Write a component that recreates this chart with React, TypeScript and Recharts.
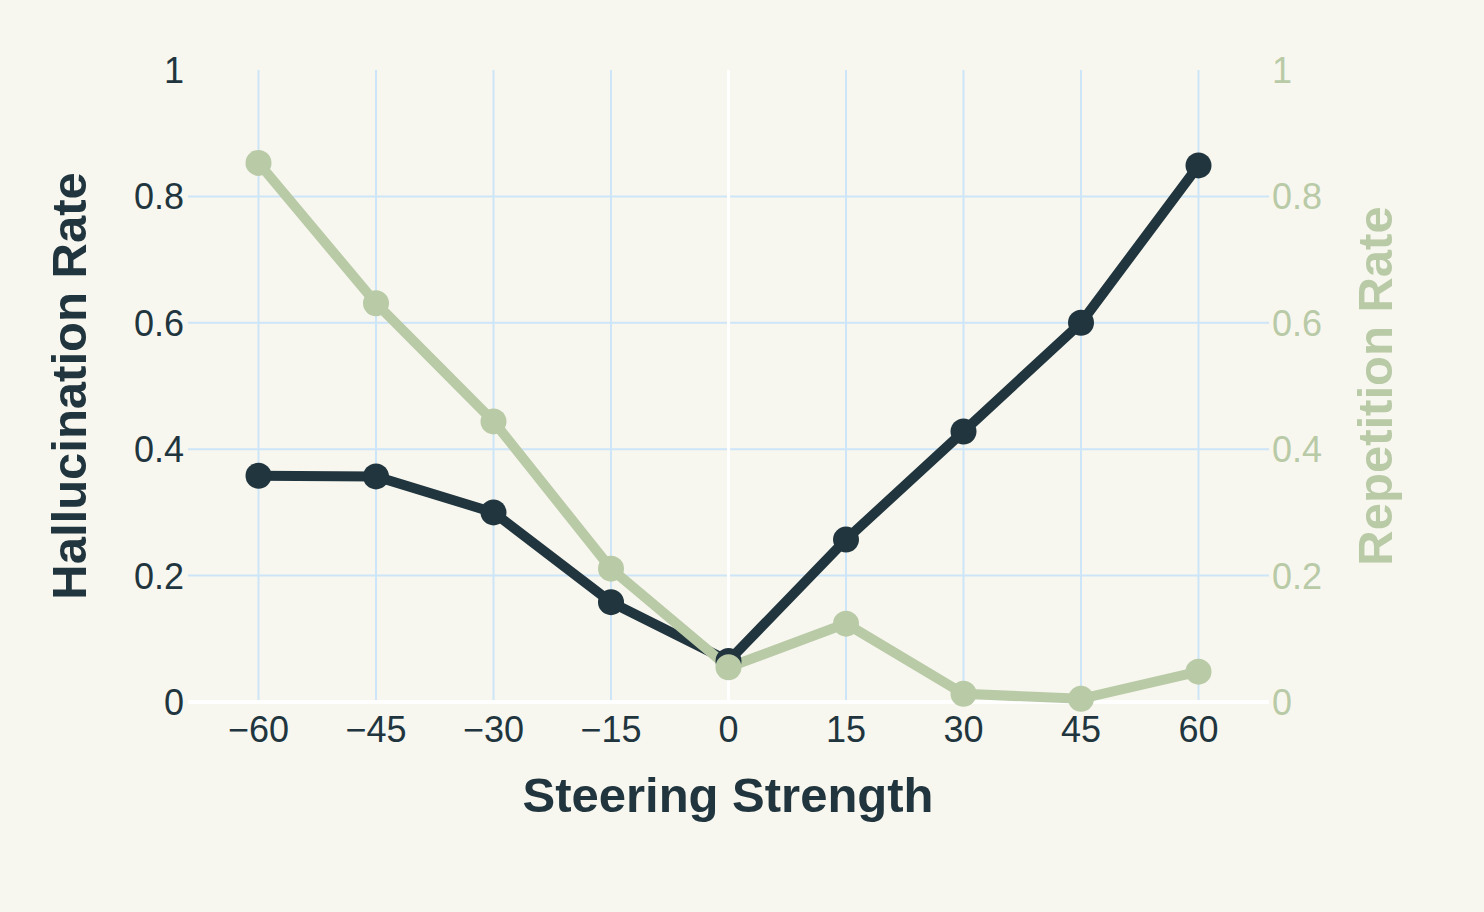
import React from 'react';
import { LineChart, Line, XAxis, YAxis, ReferenceLine } from 'recharts';

const strengths = [-60, -45, -30, -15, 0, 15, 30, 45, 60];
const hallucination = [0.358, 0.357, 0.3, 0.158, 0.065, 0.257, 0.428, 0.6, 0.849];
const repetition = [0.853, 0.631, 0.444, 0.211, 0.055, 0.124, 0.013, 0.005, 0.048];

const xTicks = [-60, -45, -30, -15, 0, 15, 30, 45, 60];
const yTicks = [0, 0.2, 0.4, 0.6, 0.8, 1];

const DARK = '#21353e';
const GREEN = '#b9caa7';
const GRID = '#cde5f8';
const BG = '#f8f7ef';
const FONT = '"Liberation Sans", Arial, Helvetica, sans-serif';

const data = strengths.map((s, i) => ({
  strength: s,
  hallucination: hallucination[i],
  repetition: repetition[i],
}));

const fmtX = (v: number) => (v < 0 ? '\u2212' + Math.abs(v) : String(v));

const XTick = (props: any) => {
  const { x, payload } = props;
  return (
    <text x={x} y={742} textAnchor="middle" fontSize={36} fill={DARK} fontFamily={FONT}>
      {fmtX(payload.value)}
    </text>
  );
};

const LeftTick = (props: any) => {
  const { y, payload } = props;
  return (
    <text x={184} y={y + 13} textAnchor="end" fontSize={36} fill={DARK} fontFamily={FONT}>
      {String(payload.value)}
    </text>
  );
};

const RightTick = (props: any) => {
  const { y, payload } = props;
  return (
    <text x={1272} y={y + 13} textAnchor="start" fontSize={36} fill={GREEN} fontFamily={FONT}>
      {String(payload.value)}
    </text>
  );
};

export default function App() {
  return (
    <div style={{ position: 'absolute', left: 0, top: 0, width: 1484, height: 912, background: BG }}>
      <LineChart
        width={1484}
        height={912}
        data={data}
        margin={{ top: 70, right: 0, bottom: 0, left: 0 }}
      >
        <XAxis
          dataKey="strength"
          type="number"
          domain={[-69, 69]}
          ticks={xTicks}
          axisLine={false}
          tickLine={false}
          height={210}
          tick={<XTick />}
          label={{
            content: () => (
              <text x={728} y={812} textAnchor="middle" fontSize={49} fontWeight="bold" fill={DARK} fontFamily={FONT}>
                Steering Strength
              </text>
            ),
          }}
        />
        <YAxis
          yAxisId="left"
          domain={[0, 1]}
          ticks={yTicks}
          axisLine={false}
          tickLine={false}
          width={188}
          tick={<LeftTick />}
          label={{
            content: () => (
              <text
                x={69}
                y={386}
                transform="rotate(-90 69 386)"
                textAnchor="middle"
                dominantBaseline="central"
                fontSize={49}
                fontWeight="bold"
                fill={DARK}
                fontFamily={FONT}
              >
                Hallucination Rate
              </text>
            ),
          }}
        />
        <YAxis
          yAxisId="right"
          orientation="right"
          domain={[0, 1]}
          ticks={yTicks}
          axisLine={false}
          tickLine={false}
          width={215}
          tick={<RightTick />}
          label={{
            content: () => (
              <text
                x={1375}
                y={386}
                transform="rotate(-90 1375 386)"
                textAnchor="middle"
                dominantBaseline="central"
                fontSize={49}
                fontWeight="bold"
                fill={GREEN}
                fontFamily={FONT}
              >
                Repetition Rate
              </text>
            ),
          }}
        />
        {xTicks.filter((t) => t !== 0).map((t) => (
          <ReferenceLine key={'vx' + t} x={t} yAxisId="left" stroke={GRID} strokeWidth={2} />
        ))}
        {yTicks.filter((t) => t !== 0 && t !== 1).map((t) => (
          <ReferenceLine key={'hy' + t} y={t} yAxisId="left" stroke={GRID} strokeWidth={2} />
        ))}
        <ReferenceLine x={0} yAxisId="left" stroke="#ffffff" strokeWidth={3} />
        <ReferenceLine y={0} yAxisId="left" stroke="#ffffff" strokeWidth={4} />
        <Line
          yAxisId="left"
          dataKey="hallucination"
          type="linear"
          stroke={DARK}
          strokeWidth={10}
          dot={{ r: 13, fill: DARK, stroke: 'none' }}
          activeDot={false}
          isAnimationActive={false}
        />
        <Line
          yAxisId="right"
          dataKey="repetition"
          type="linear"
          stroke={GREEN}
          strokeWidth={10}
          dot={{ r: 13, fill: GREEN, stroke: 'none' }}
          activeDot={false}
          isAnimationActive={false}
        />
      </LineChart>
    </div>
  );
}
